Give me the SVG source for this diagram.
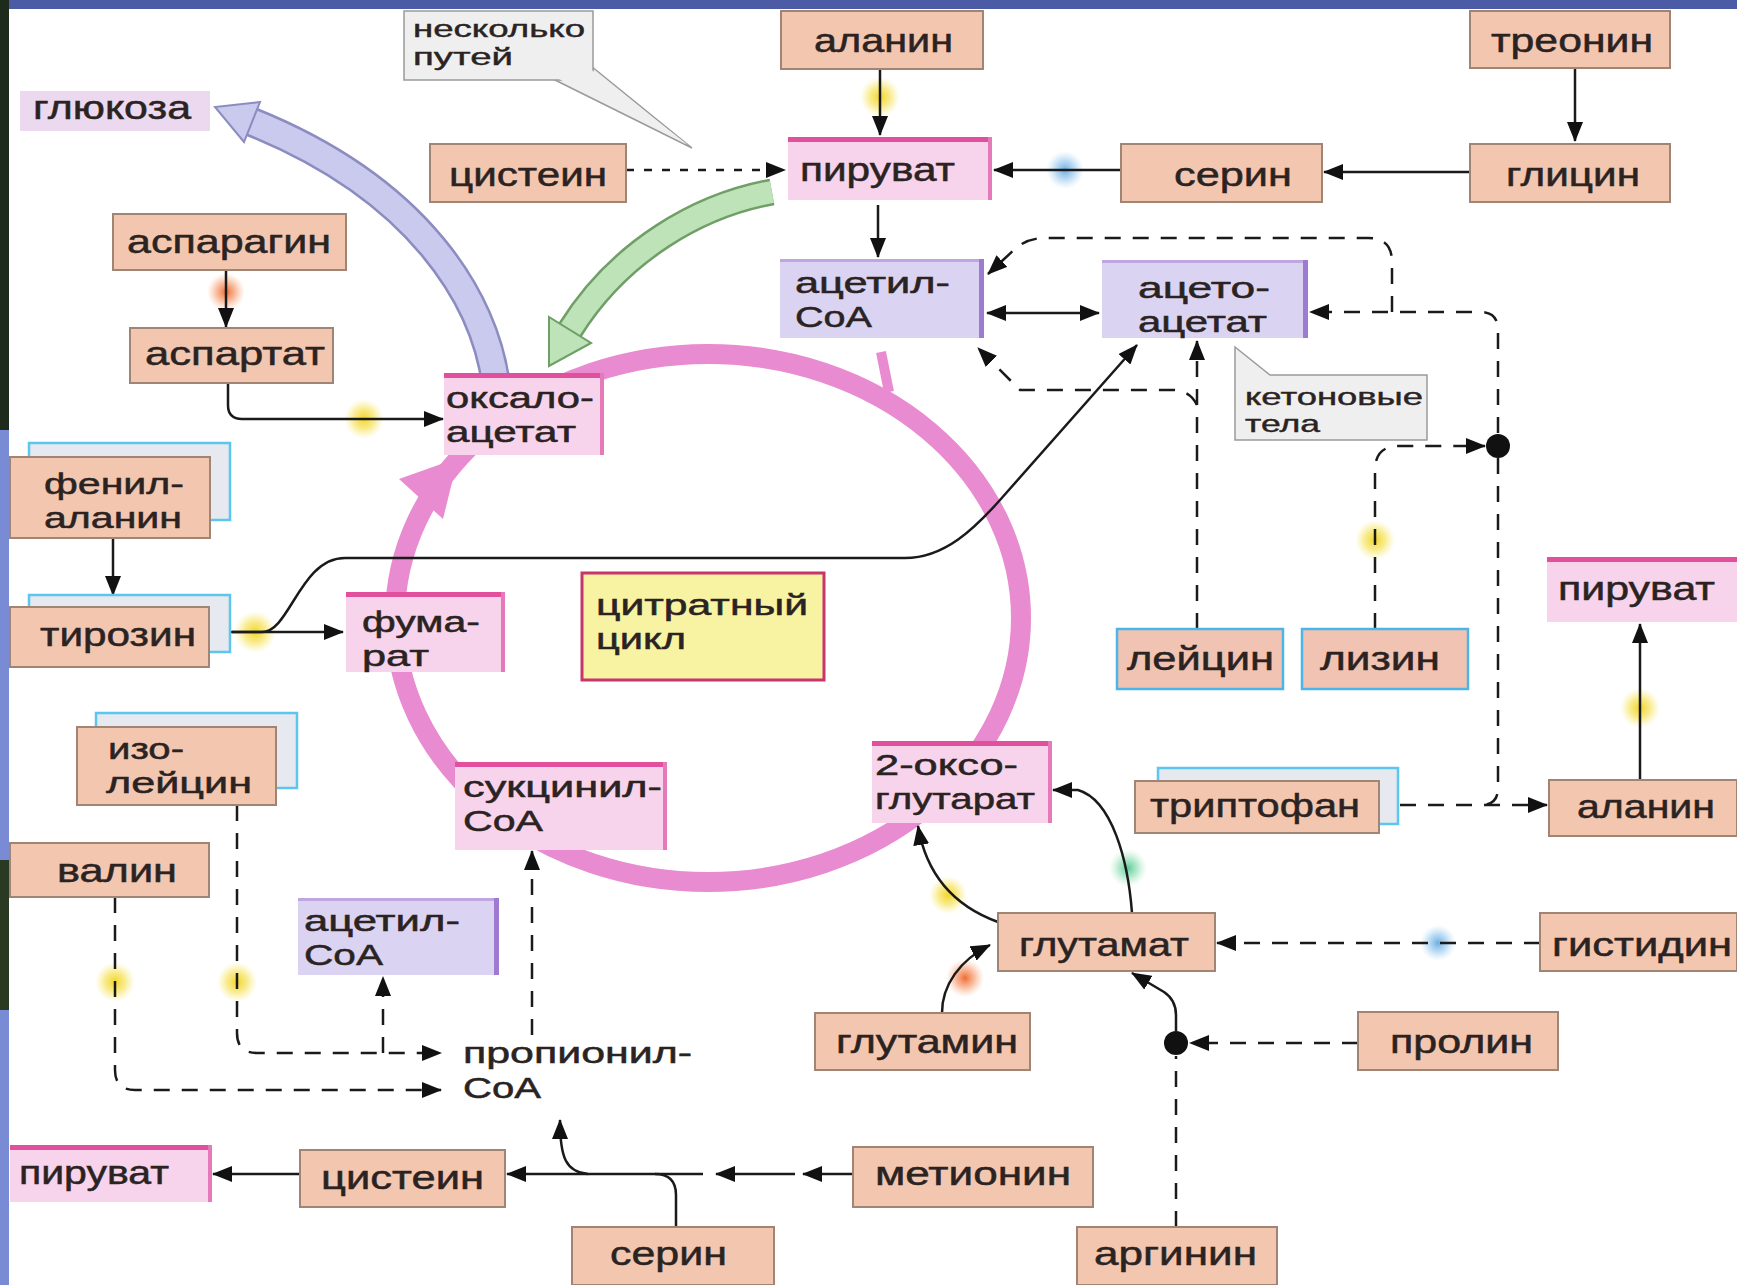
<svg xmlns="http://www.w3.org/2000/svg" width="1737" height="1285" viewBox="0 0 1737 1285">
<defs>
<style>
.t{font-family:"Liberation Sans",Arial,sans-serif;font-size:33px;fill:#2b2322;stroke:#2b2322;stroke-width:0.5}
.t2{font-family:"Liberation Sans",Arial,sans-serif;font-size:29px;fill:#2b2322;stroke:#2b2322;stroke-width:0.5}
.ts{font-family:"Liberation Sans",Arial,sans-serif;font-size:23px;fill:#2b2322;stroke:#2b2322;stroke-width:0.4}
.n{fill:#f3c6b0;stroke:#a08474;stroke-width:2}
.cb{fill:#f1c3b2;stroke:#4cb4e6;stroke-width:2.5}
.bk{fill:#e6e9ef;stroke:#5cc6ee;stroke-width:2.5}
.p{fill:#f7d3ec}
.pt{stroke:#e24f9c;stroke-width:5;fill:none}
.pr{stroke:#e47ab9;stroke-width:4;fill:none}
.a{fill:#dbd3f2}
.at{stroke:#bfa6e0;stroke-width:3;fill:none}
.ar{stroke:#9e7ad0;stroke-width:5;fill:none}
.co{fill:#efefef;stroke:#9a9a9a;stroke-width:1.5}
.cy{fill:#f7f3a2;stroke:#c8346c;stroke-width:3}
.ln{stroke:#1a1a1a;stroke-width:2.5;fill:none}
.ds{stroke-dasharray:16 12}
.dss{stroke-dasharray:8 10}
</style>
<marker id="ah" viewBox="0 0 20 16" refX="19" refY="8" markerWidth="20" markerHeight="16" markerUnits="userSpaceOnUse" orient="auto-start-reverse">
<path d="M0,0 L20,8 L0,16 z" fill="#111"/>
</marker>
<radialGradient id="gy"><stop offset="0" stop-color="#f2d52a" stop-opacity="1"/><stop offset="0.5" stop-color="#f6e25a" stop-opacity="0.7"/><stop offset="1" stop-color="#f8ec80" stop-opacity="0"/></radialGradient>
<radialGradient id="go"><stop offset="0" stop-color="#f06a30" stop-opacity="1"/><stop offset="0.5" stop-color="#f49060" stop-opacity="0.6"/><stop offset="1" stop-color="#f8b080" stop-opacity="0"/></radialGradient>
<radialGradient id="gb"><stop offset="0" stop-color="#6aaee2" stop-opacity="1"/><stop offset="0.5" stop-color="#90c4ec" stop-opacity="0.6"/><stop offset="1" stop-color="#b0d8f4" stop-opacity="0"/></radialGradient>
<radialGradient id="gg"><stop offset="0" stop-color="#5acc94" stop-opacity="1"/><stop offset="0.5" stop-color="#88dcb0" stop-opacity="0.6"/><stop offset="1" stop-color="#b0ecc8" stop-opacity="0"/></radialGradient>
</defs>

<rect x="0" y="0" width="1737" height="1285" fill="#ffffff"/>
<rect x="0" y="0" width="1737" height="9" fill="#4b5ba6"/>
<rect x="0" y="0" width="9" height="1285" fill="#7a8bd6"/>
<rect x="0" y="0" width="9" height="430" fill="#1d2a1c"/>
<rect x="0" y="860" width="9" height="150" fill="#2a3a22"/>

<g id="glows">
<circle cx="880" cy="97" r="20" fill="url(#gy)"/>
<circle cx="364" cy="419" r="20" fill="url(#gy)"/>
<circle cx="255" cy="632" r="21" fill="url(#gy)"/>
<circle cx="115" cy="982" r="20" fill="url(#gy)"/>
<circle cx="237" cy="982" r="20" fill="url(#gy)"/>
<circle cx="1375" cy="540" r="20" fill="url(#gy)"/>
<circle cx="1640" cy="708" r="20" fill="url(#gy)"/>
<circle cx="948" cy="895" r="19" fill="url(#gy)"/>
<circle cx="226" cy="292" r="19" fill="url(#go)"/>
<circle cx="965" cy="978" r="19" fill="url(#go)"/>
<circle cx="1065" cy="170" r="19" fill="url(#gb)"/>
<circle cx="1438" cy="943" r="18" fill="url(#gb)"/>
<circle cx="1128" cy="868" r="19" fill="url(#gg)"/>
</g>

<g id="cycle">
<ellipse cx="708" cy="618" rx="313" ry="264" fill="none" stroke="#e98bd0" stroke-width="20"/>
<path d="M881,352 L889,392" stroke="#e98bd0" stroke-width="10" fill="none"/>
<polygon points="458,458 443,519 399,479" fill="#e98bd0"/>
</g>

<g id="big-arrows">
<path d="M496,385 C485,300 420,190 252,122" fill="none" stroke="#8c8cc0" stroke-width="30"/>
<path d="M496,385 C485,300 420,190 252,122" fill="none" stroke="#c9caee" stroke-width="25"/>
<polygon points="260,102 215,107 244,142" fill="#c9caee" stroke="#8c8cc0" stroke-width="2"/>
<path d="M772,192 C700,205 620,250 570,330" fill="none" stroke="#6f9f66" stroke-width="27"/>
<path d="M772,192 C700,205 620,250 570,330" fill="none" stroke="#bfe3b8" stroke-width="22"/>
<polygon points="591,343 549,366 549,317" fill="#bfe3b8" stroke="#6f9f66" stroke-width="2"/>
</g>

<g id="connectors">
<path class="ln" d="M880,69 V135" marker-end="url(#ah)"/>
<path class="ln dss" d="M626,170 H785" marker-end="url(#ah)"/>
<path class="ln" d="M1121,170 H994" marker-end="url(#ah)"/>
<path class="ln" d="M1470,172 H1324" marker-end="url(#ah)"/>
<path class="ln" d="M1575,68 V141" marker-end="url(#ah)"/>
<path class="ln" d="M878,205 V257" marker-end="url(#ah)"/>
<path class="ln" d="M987,313 H1099" marker-start="url(#ah)" marker-end="url(#ah)"/>
<path class="ln ds" d="M1392,312 V262 Q1392,238 1368,238 H1045 Q1028,238 1016,248 L988,274" marker-end="url(#ah)"/>
<path class="ln ds" d="M1498,433 V330 Q1498,312 1480,312 H1310" marker-end="url(#ah)"/>
<path class="ln ds" d="M1375,629 V470 Q1375,446 1399,446 H1485" marker-end="url(#ah)"/>
<path class="ln ds" d="M1498,458 V788 Q1498,805 1481,805"/>
<path class="ln ds" d="M1400,805 H1547" marker-end="url(#ah)"/>
<path class="ln ds" d="M1197,629 V341" marker-end="url(#ah)"/>
<path class="ln ds" d="M1197,405 Q1190,390 1172,390 H1020 L978,348" marker-end="url(#ah)"/>
<path class="ln" d="M209,632 H343" marker-end="url(#ah)"/>
<path class="ln" d="M232,632 H262 C290,632 300,558 345,558 H905 C945,558 975,528 1000,500 L1137,345" marker-end="url(#ah)"/>
<path class="ln" d="M226,270 V327" marker-end="url(#ah)"/>
<path class="ln" d="M228,383 V405 Q228,419 242,419 H443" marker-end="url(#ah)"/>
<path class="ln" d="M113,538 V595" marker-end="url(#ah)"/>
<path class="ln ds" d="M532,1035 V851" marker-end="url(#ah)"/>
<path class="ln ds" d="M237,805 V1033 Q237,1053 257,1053 H441" marker-end="url(#ah)"/>
<path class="ln ds" d="M115,897 V1070 Q115,1090 135,1090 H441" marker-end="url(#ah)"/>
<path class="ln ds" d="M383,1053 V977" marker-end="url(#ah)"/>
<path class="ln" d="M300,1174 H213" marker-end="url(#ah)"/>
<path class="ln" d="M853,1174 H803" marker-end="url(#ah)"/>
<path class="ln" d="M795,1174 H716" marker-end="url(#ah)"/>
<path class="ln" d="M703,1174 H507" marker-end="url(#ah)"/>
<path class="ln" d="M676,1227 V1195 Q676,1174 655,1174"/>
<path class="ln" d="M588,1174 C566,1172 560,1158 560,1120" marker-end="url(#ah)"/>
<path class="ln" d="M1132,913 C1128,860 1112,800 1078,790 L1053,790" marker-end="url(#ah)"/>
<path class="ln" d="M998,922 C965,910 928,885 918,826" marker-end="url(#ah)"/>
<path class="ln" d="M942,1013 C942,985 960,960 990,945" marker-end="url(#ah)"/>
<path class="ln ds" d="M1540,943 H1217" marker-end="url(#ah)"/>
<path class="ln ds" d="M1358,1043 H1190" marker-end="url(#ah)"/>
<path class="ln ds" d="M1176,1227 V1056"/>
<path class="ln" d="M1176,1031 V1015 Q1176,1000 1164,992 L1132,973" marker-end="url(#ah)"/>
<path class="ln" d="M1640,780 V624" marker-end="url(#ah)"/>
<circle cx="1498" cy="446" r="12" fill="#111"/>
<circle cx="1176" cy="1043" r="12" fill="#111"/>
</g>

<g id="n-glucose"><rect x="20" y="91" width="190" height="40" fill="#ecd9ef"/><text class="t" x="33" y="119" textLength="158" lengthAdjust="spacingAndGlyphs">глюкоза</text></g>

<g id="n-note-paths"><polygon class="co" points="555,80 692,148 591,66"/><rect class="co" x="404" y="11" width="189" height="69"/><polygon points="557,78 688,145 589,68" fill="#efefef"/><text class="ts" x="413" y="37" textLength="172" lengthAdjust="spacingAndGlyphs">несколько</text><text class="ts" x="413" y="65" textLength="100" lengthAdjust="spacingAndGlyphs">путей</text></g>

<g id="n-cys1"><rect class="n" x="430" y="144" width="196" height="58"/><text class="t" x="449" y="186" textLength="158" lengthAdjust="spacingAndGlyphs">цистеин</text></g>
<g id="n-ala1"><rect class="n" x="781" y="11" width="202" height="58"/><text class="t" x="814" y="52" textLength="139" lengthAdjust="spacingAndGlyphs">аланин</text></g>
<g id="n-thr"><rect class="n" x="1470" y="11" width="200" height="57"/><text class="t" x="1491" y="52" textLength="162" lengthAdjust="spacingAndGlyphs">треонин</text></g>
<g id="n-pyr1"><rect class="p" x="788" y="137" width="204" height="63"/><path class="pt" d="M788,139.5 H992"/><path class="pr" d="M990,137 V200"/><text class="t" x="800" y="181" textLength="155" lengthAdjust="spacingAndGlyphs">пируват</text></g>
<g id="n-ser1"><rect class="n" x="1121" y="144" width="201" height="58"/><text class="t" x="1174" y="186" textLength="118" lengthAdjust="spacingAndGlyphs">серин</text></g>
<g id="n-gly"><rect class="n" x="1470" y="144" width="200" height="58"/><text class="t" x="1506" y="186" textLength="134" lengthAdjust="spacingAndGlyphs">глицин</text></g>
<g id="n-acoa1"><rect class="a" x="780" y="259" width="204" height="79"/><path class="at" d="M780,260.5 H984"/><path class="ar" d="M981.5,259 V338"/><text class="t2" x="795" y="293" textLength="155" lengthAdjust="spacingAndGlyphs">ацетил-</text><text class="t2" x="795" y="327" textLength="77" lengthAdjust="spacingAndGlyphs">CoA</text></g>
<g id="n-acac"><rect class="a" x="1102" y="260" width="206" height="78"/><path class="at" d="M1102,261.5 H1308"/><path class="ar" d="M1305.5,260 V338"/><text class="t2" x="1138" y="298" textLength="132" lengthAdjust="spacingAndGlyphs">ацето-</text><text class="t2" x="1138" y="332" textLength="129" lengthAdjust="spacingAndGlyphs">ацетат</text></g>
<g id="n-asn"><rect class="n" x="113" y="214" width="233" height="56"/><text class="t" x="127" y="253" textLength="204" lengthAdjust="spacingAndGlyphs">аспарагин</text></g>
<g id="n-asp"><rect class="n" x="130" y="328" width="203" height="55"/><text class="t" x="145" y="365" textLength="180" lengthAdjust="spacingAndGlyphs">аспартат</text></g>
<g id="n-oaa"><rect class="p" x="444" y="373" width="160" height="82"/><path class="pt" d="M444,375.5 H604"/><path class="pr" d="M602,373 V455"/><text class="t2" x="446" y="408" textLength="148" lengthAdjust="spacingAndGlyphs">оксало-</text><text class="t2" x="446" y="442" textLength="130" lengthAdjust="spacingAndGlyphs">ацетат</text></g>
<g id="n-ketone"><polygon class="co" points="1235,347 1270,375 1427,375 1427,440 1235,440"/><text class="ts" x="1245" y="405" textLength="178" lengthAdjust="spacingAndGlyphs">кетоновые</text><text class="ts" x="1245" y="432" textLength="75" lengthAdjust="spacingAndGlyphs">тела</text></g>
<g id="n-phe"><rect class="bk" x="29" y="443" width="201" height="77"/><rect class="n" x="10" y="457" width="200" height="81"/><text class="t2" x="44" y="494" textLength="140" lengthAdjust="spacingAndGlyphs">фенил-</text><text class="t2" x="44" y="528" textLength="138" lengthAdjust="spacingAndGlyphs">аланин</text></g>
<g id="n-tyr"><rect class="bk" x="29" y="595" width="201" height="57"/><rect class="n" x="10" y="607" width="199" height="60"/><text class="t" x="40" y="646" textLength="156" lengthAdjust="spacingAndGlyphs">тирозин</text></g>
<g id="n-fum"><rect class="p" x="346" y="592" width="159" height="80"/><path class="pt" d="M346,594.5 H505"/><path class="pr" d="M503,592 V672"/><text class="t2" x="362" y="632" textLength="118" lengthAdjust="spacingAndGlyphs">фума-</text><text class="t2" x="362" y="666" textLength="67" lengthAdjust="spacingAndGlyphs">рат</text></g>
<g id="n-ile"><rect class="bk" x="96" y="713" width="201" height="75"/><rect class="n" x="77" y="727" width="199" height="78"/><text class="t2" x="108" y="759" textLength="76" lengthAdjust="spacingAndGlyphs">изо-</text><text class="t2" x="106" y="793" textLength="146" lengthAdjust="spacingAndGlyphs">лейцин</text></g>
<g id="n-val"><rect class="n" x="10" y="843" width="199" height="54"/><text class="t" x="57" y="882" textLength="120" lengthAdjust="spacingAndGlyphs">валин</text></g>
<g id="n-succ"><rect class="p" x="455" y="762" width="212" height="88"/><path class="pt" d="M455,764.5 H667"/><path class="pr" d="M665,762 V850"/><text class="t2" x="463" y="797" textLength="199" lengthAdjust="spacingAndGlyphs">сукцинил-</text><text class="t2" x="463" y="831" textLength="80" lengthAdjust="spacingAndGlyphs">CoA</text></g>
<g id="n-citrate"><rect class="cy" x="582" y="573" width="242" height="107"/><text class="t2" x="596" y="615" textLength="212" lengthAdjust="spacingAndGlyphs">цитратный</text><text class="t2" x="596" y="649" textLength="90" lengthAdjust="spacingAndGlyphs">цикл</text></g>
<g id="n-oxoglu"><rect class="p" x="872" y="741" width="180" height="82"/><path class="pt" d="M872,743.5 H1052"/><path class="pr" d="M1050,741 V823"/><text class="t2" x="875" y="775" textLength="143" lengthAdjust="spacingAndGlyphs">2-оксо-</text><text class="t2" x="875" y="809" textLength="160" lengthAdjust="spacingAndGlyphs">глутарат</text></g>
<g id="n-leu"><rect class="cb" x="1117" y="629" width="166" height="60"/><text class="t" x="1127" y="670" textLength="147" lengthAdjust="spacingAndGlyphs">лейцин</text></g>
<g id="n-lys"><rect class="cb" x="1302" y="629" width="166" height="60"/><text class="t" x="1320" y="670" textLength="120" lengthAdjust="spacingAndGlyphs">лизин</text></g>
<g id="n-pyr2"><rect class="p" x="1547" y="557" width="190" height="65"/><path class="pt" d="M1547,559.5 H1737"/><text class="t" x="1558" y="600" textLength="157" lengthAdjust="spacingAndGlyphs">пируват</text></g>
<g id="n-trp"><rect class="bk" x="1158" y="768" width="240" height="56"/><rect class="n" x="1135" y="781" width="244" height="52"/><text class="t" x="1150" y="817" textLength="210" lengthAdjust="spacingAndGlyphs">триптофан</text></g>
<g id="n-ala2"><rect class="n" x="1549" y="780" width="188" height="56"/><text class="t" x="1577" y="818" textLength="138" lengthAdjust="spacingAndGlyphs">аланин</text></g>
<g id="n-glu"><rect class="n" x="998" y="913" width="217" height="58"/><text class="t" x="1019" y="956" textLength="170" lengthAdjust="spacingAndGlyphs">глутамат</text></g>
<g id="n-his"><rect class="n" x="1540" y="913" width="197" height="58"/><text class="t" x="1552" y="956" textLength="180" lengthAdjust="spacingAndGlyphs">гистидин</text></g>
<g id="n-gln"><rect class="n" x="815" y="1013" width="215" height="57"/><text class="t" x="836" y="1053" textLength="182" lengthAdjust="spacingAndGlyphs">глутамин</text></g>
<g id="n-pro"><rect class="n" x="1358" y="1012" width="200" height="58"/><text class="t" x="1390" y="1053" textLength="143" lengthAdjust="spacingAndGlyphs">пролин</text></g>
<g id="n-acoa2"><rect class="a" x="298" y="898" width="201" height="77"/><path class="at" d="M298,899.5 H499"/><path class="ar" d="M496.5,898 V975"/><text class="t2" x="304" y="931" textLength="156" lengthAdjust="spacingAndGlyphs">ацетил-</text><text class="t2" x="304" y="965" textLength="79" lengthAdjust="spacingAndGlyphs">CoA</text></g>
<g id="n-propcoa"><text class="t2" x="463" y="1063" textLength="229" lengthAdjust="spacingAndGlyphs">пропионил-</text><text class="t2" x="463" y="1098" textLength="78" lengthAdjust="spacingAndGlyphs">CoA</text></g>
<g id="n-pyr3"><rect class="p" x="10" y="1145" width="202" height="57"/><path class="pt" d="M10,1147.5 H212"/><path class="pr" d="M210,1145 V1202"/><text class="t" x="19" y="1184" textLength="150" lengthAdjust="spacingAndGlyphs">пируват</text></g>
<g id="n-cys2"><rect class="n" x="300" y="1150" width="205" height="57"/><text class="t" x="321" y="1189" textLength="163" lengthAdjust="spacingAndGlyphs">цистеин</text></g>
<g id="n-met"><rect class="n" x="853" y="1147" width="240" height="60"/><text class="t" x="875" y="1185" textLength="196" lengthAdjust="spacingAndGlyphs">метионин</text></g>
<g id="n-ser2"><rect class="n" x="572" y="1227" width="202" height="58"/><text class="t" x="610" y="1265" textLength="117" lengthAdjust="spacingAndGlyphs">серин</text></g>
<g id="n-arg"><rect class="n" x="1077" y="1227" width="200" height="58"/><text class="t" x="1094" y="1265" textLength="163" lengthAdjust="spacingAndGlyphs">аргинин</text></g>
</svg>
